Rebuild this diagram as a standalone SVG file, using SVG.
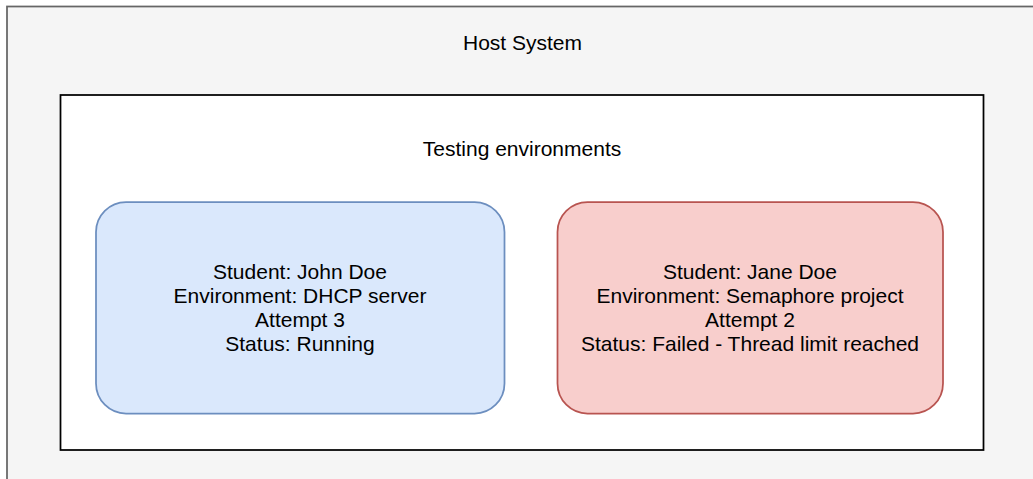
<svg xmlns="http://www.w3.org/2000/svg" width="1033" height="479" viewBox="0 0 1033 479">
<style>
text{font-family:"Liberation Sans",Arial,Helvetica,sans-serif;font-size:21px;fill:#000;text-anchor:middle}
.host{fill:#f5f5f5;stroke:#666666;stroke-width:1.75}
.env{fill:#ffffff;stroke:#000000;stroke-width:1.75}
.blue{fill:#dae8fc;stroke:#6c8ebf;stroke-width:1.75}
.red{fill:#f8cecc;stroke:#b85450;stroke-width:1.75}
</style>
<g id="host-system">
<rect class="host" x="7" y="6.5" width="1032" height="480"/>
<text x="522.5" y="50">Host System</text>
</g>
<g id="testing-environments">
<rect class="env" x="60.5" y="95" width="923" height="355"/>
<text x="522" y="156">Testing environments</text>
</g>
<g id="john-doe">
<rect class="blue" x="96" y="202" width="408.5" height="211.5" rx="30" ry="30"/>
<text x="300" y="278.5">Student: John Doe</text>
<text x="300" y="302.7">Environment: DHCP server</text>
<text x="300" y="326.8">Attempt 3</text>
<text x="300" y="351">Status: Running</text>
</g>
<g id="jane-doe">
<rect class="red" x="557.5" y="202" width="385.5" height="211.5" rx="30" ry="30"/>
<text x="750" y="278.5">Student: Jane Doe</text>
<text x="750" y="302.7">Environment: Semaphore project</text>
<text x="750" y="326.8">Attempt 2</text>
<text x="750" y="351">Status: Failed - Thread limit reached</text>
</g>
<g id="connectors"/>
</svg>
